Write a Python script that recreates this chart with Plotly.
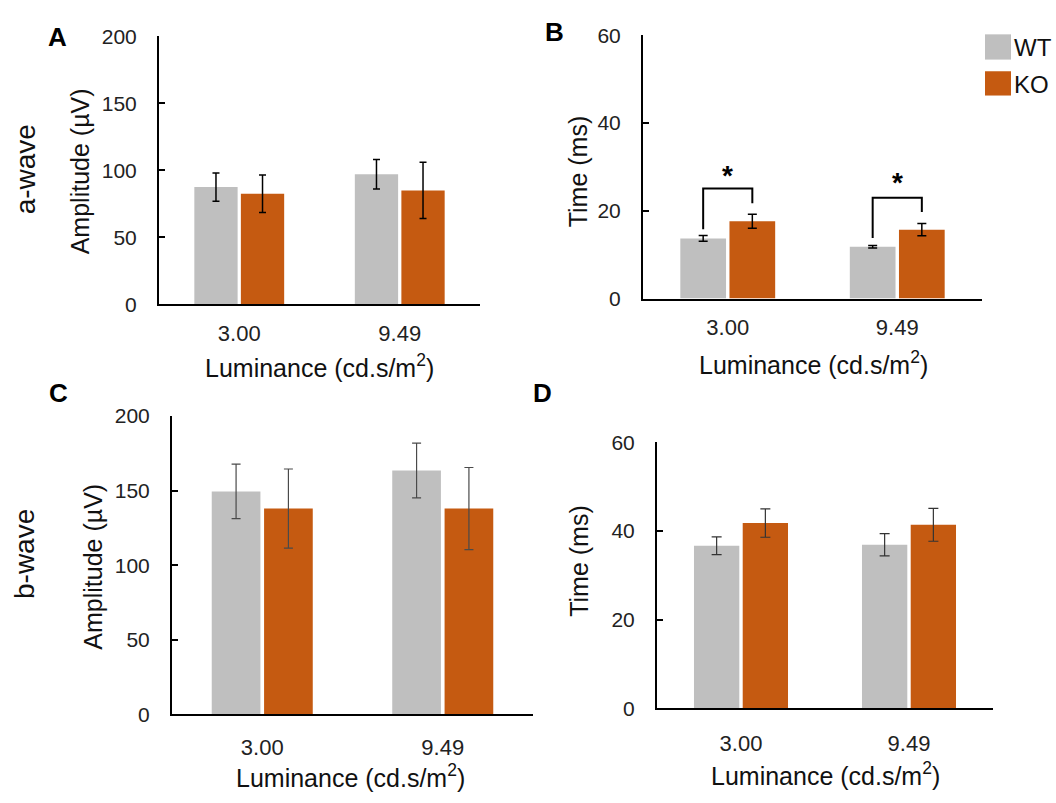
import plotly.graph_objects as go

W, H = 1056, 803

categories = ["3.00", "9.49"]
series = ["WT", "KO"]
colors = {"WT": "#BFBFBF", "KO": "#C55A11"}

# Panel A: a-wave amplitude (µV)
a_amp_wt = [87.5, 97.0]
a_amp_wt_err = [10.5, 11.0]
a_amp_ko = [82.5, 85.0]
a_amp_ko_err = [14.0, 21.0]

# Panel B: a-wave time (ms)
a_time_wt = [13.7, 11.8]
a_time_wt_err = [0.65, 0.3]
a_time_ko = [17.6, 15.7]
a_time_ko_err = [1.6, 1.4]

# Panel C: b-wave amplitude (µV)
b_amp_wt = [149.5, 163.5]
b_amp_wt_err = [18.3, 18.4]
b_amp_ko = [138.0, 138.0]
b_amp_ko_err = [26.5, 27.5]

# Panel D: b-wave time (ms)
b_time_wt = [36.7, 36.9]
b_time_wt_err = [2.0, 2.5]
b_time_ko = [41.8, 41.4]
b_time_ko_err = [3.2, 3.7]

# Significance brackets (panel B), in ms
sig_left = [15.8, 13.8]
sig_top = [25.1, 23.0]
sig_right = [21.7, 19.7]
sig_star = [28.0, 26.4]
sig_label = ["*", "*"]

BARGAP = 0.42
GROUPGAP = 0.07
FONT = "Liberation Sans, Arial, sans-serif"


def px(x):
    return x / W


def py(y):
    return 1 - y / H


panels = [
    dict(n="", xd=(159, 480), yd=(25, 301), yr=200, dt=50,
         wt=a_amp_wt, wte=a_amp_wt_err, ko=a_amp_ko, koe=a_amp_ko_err,
         ec="#000000", et=1.5, ew=3.5, xstand=8),
    dict(n="2", xd=(643, 982), yd=(24, 295), yr=60, dt=20,
         wt=a_time_wt, wte=a_time_wt_err, ko=a_time_ko, koe=a_time_ko_err,
         ec="#000000", et=1.5, ew=4.5, xstand=8),
    dict(n="3", xd=(172, 533), yd=(416, 723), yr=200, dt=50,
         wt=b_amp_wt, wte=b_amp_wt_err, ko=b_amp_ko, koe=b_amp_ko_err,
         ec="#4a4a4a", et=1.2, ew=4.5, xstand=12),
    dict(n="4", xd=(657, 993), yd=(443, 717), yr=60, dt=20,
         wt=b_time_wt, wte=b_time_wt_err, ko=b_time_ko, koe=b_time_ko_err,
         ec="#333333", et=1.2, ew=5, xstand=14),
]

xpos = list(range(len(categories)))
fig = go.Figure()
layout = {}
for p in panels:
    n = p["n"]
    for name, vals, errs in (("WT", p["wt"], p["wte"]), ("KO", p["ko"], p["koe"])):
        fig.add_trace(go.Bar(
            x=xpos, y=vals, name=name, showlegend=False,
            marker=dict(color=colors[name], line=dict(width=0)),
            error_y=dict(type="data", array=errs, visible=True,
                         color=p["ec"], thickness=p["et"], width=p["ew"]),
            xaxis="x" + n, yaxis="y" + n,
        ))
    layout["xaxis" + n] = dict(
        domain=[px(p["xd"][0]), px(p["xd"][1])], anchor="y" + n,
        range=[-0.5, len(categories) - 0.5], tickvals=xpos, ticktext=categories,
        showline=True, linecolor="black", linewidth=2, ticks="",
        showgrid=False, zeroline=False, fixedrange=True,
        tickfont=dict(family=FONT, size=22, color="#222222"),
        ticklabelstandoff=p["xstand"],
    )
    layout["yaxis" + n] = dict(
        domain=[py(p["yd"][1]), py(p["yd"][0])], anchor="x" + n,
        range=[0, p["yr"]], dtick=p["dt"], tick0=0,
        showline=True, linecolor="black", linewidth=2,
        ticks="inside", ticklen=6, tickwidth=1.5, tickcolor="black",
        showgrid=False, zeroline=False,
        tickfont=dict(family=FONT, size=21, color="#222222"),
        ticklabelstandoff=16,
    )

# significance brackets on panel B
half = (1 - BARGAP) / 4
shapes = []
annotations = []
for i in range(len(categories)):
    xl, xr = xpos[i] - half, xpos[i] + half
    shapes.append(dict(
        type="path", xref="x2", yref="y2",
        path=f"M {xl},{sig_left[i]} L {xl},{sig_top[i]} L {xr},{sig_top[i]} L {xr},{sig_right[i]}",
        line=dict(color="black", width=2),
    ))
    annotations.append(dict(
        x=xpos[i], y=sig_star[i], xref="x2", yref="y2", text=f"<b>{sig_label[i]}</b>",
        showarrow=False, font=dict(family=FONT, size=28, color="black"),
        xanchor="center", yanchor="middle",
    ))

# legend (drawn manually)
legend_rows = [(series[0], 23, 49), (series[1], 61, 86)]
for name, y0, y1 in legend_rows:
    shapes.append(dict(type="rect", xref="paper", yref="paper",
                       x0=px(985), x1=px(1011), y0=py(y1), y1=py(y0),
                       fillcolor=colors[name], line=dict(width=0)))
    annotations.append(dict(x=px(1012), y=py((y0 + y1) / 2 + 1), xref="paper", yref="paper",
                            text=name, showarrow=False, xanchor="left", yanchor="middle",
                            font=dict(family=FONT, size=24, color="#111111")))


def txt(x, y, text, size, angle=0, bold=False, color="#111111"):
    annotations.append(dict(
        x=px(x), y=py(y), xref="paper", yref="paper",
        text=f"<b>{text}</b>" if bold else text, showarrow=False,
        xanchor="center", yanchor="middle", textangle=angle,
        font=dict(family=FONT, size=size, color=color)))


lum = "Luminance (cd.s/m<sup>2</sup>)"
# panel letters
txt(57, 26, "A", 26, bold=True, color="black")
txt(554, 21, "B", 26, bold=True, color="black")
txt(58, 392, "C", 26, bold=True, color="black")
txt(542, 392, "D", 26, bold=True, color="black")
# row labels
txt(25, 162, "a-wave", 28, angle=-90)
txt(24, 558, "b-wave", 28, angle=-90)
# y titles
txt(80, 164, "Amplitude (µV)", 25, angle=-90)
txt(578, 164, "Time (ms)", 25, angle=-90)
txt(93, 571, "Amplitude (µV)", 25, angle=-90)
txt(579, 565, "Time (ms)", 25, angle=-90)
# x titles
txt(319, 364, lum, 25)
txt(813, 361, lum, 25)
txt(350, 787, lum, 25)
txt(825, 784, lum, 25)

fig.update_layout(
    width=W, height=H, margin=dict(l=0, r=0, t=0, b=0),
    paper_bgcolor="white", plot_bgcolor="white",
    barmode="group", bargap=BARGAP, bargroupgap=GROUPGAP,
    shapes=shapes, annotations=annotations, showlegend=False,
    font=dict(family=FONT),
    **layout,
)
fig.write_html("out.html")
